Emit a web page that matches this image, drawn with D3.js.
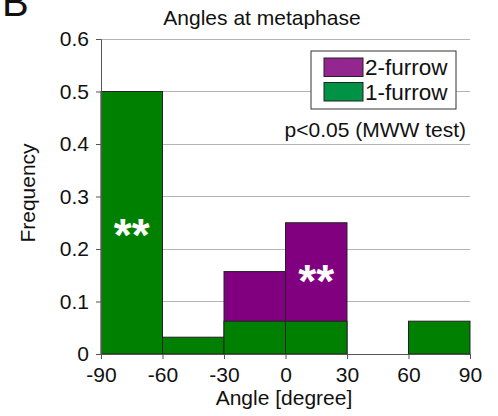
<!DOCTYPE html>
<html>
<head>
<meta charset="utf-8">
<script src="https://cdn.jsdelivr.net/npm/d3@7"></script>
<style>
  body { margin: 0; background: #fff; }
  text { font-family: "Liberation Sans", Arial, sans-serif; fill: #111; }
</style>
</head>
<body>
<div class="canvas"></div>
<script>
// data
const binEdges = [-90, -60, -30, 0, 30, 60, 90];
const oneFurrow = [0.5, 0.032, 0.0625, 0.0625, 0, 0.0625];
const twoFurrow = [0, 0, 0.157, 0.25, 0, 0];
const yTicks = [0, 0.1, 0.2, 0.3, 0.4, 0.5, 0.6];
const seriesNames = ["2-furrow", "1-furrow"];
const marks = [{ bin: 0, text: "**" }, { bin: 3, text: "**" }];

const dims = { width: 498, height: 416 };
const plot = { left: 101, right: 470, top: 39, bottom: 354 };

const svg = d3.select(".canvas")
  .append("svg")
  .attr("width", dims.width)
  .attr("height", dims.height);

const x = d3.scaleLinear().domain([-90, 90]).range([plot.left, plot.right]);
const y = d3.scaleLinear().domain([0, 0.6]).range([plot.bottom, plot.top]);

// panel letter (cut off at top, like the source figure)
svg.append("text")
  .attr("x", 2).attr("y", 16)
  .attr("font-size", 40)
  .text("B");

// title
svg.append("text")
  .attr("x", 262).attr("y", 25)
  .attr("text-anchor", "middle")
  .attr("font-size", 21)
  .text("Angles at metaphase");

// gridlines
svg.append("g")
  .selectAll("line")
  .data(yTicks.filter(d => d > 0))
  .enter().append("line")
  .attr("x1", plot.left).attr("x2", plot.right)
  .attr("y1", d => y(d)).attr("y2", d => y(d))
  .attr("stroke", "#b4b4b4")
  .attr("stroke-width", 1)
  .attr("shape-rendering", "crispEdges");

// bins
const bins = d3.range(oneFurrow.length).map(i => ({
  x0: binEdges[i], x1: binEdges[i + 1], one: oneFurrow[i], two: twoFurrow[i]
}));

const drawBars = (key, fill) => {
  svg.append("g")
    .selectAll("rect")
    .data(bins.filter(d => d[key] > 0))
    .enter().append("rect")
    .attr("x", d => x(d.x0))
    .attr("width", d => x(d.x1) - x(d.x0))
    .attr("y", d => y(d[key]))
    .attr("height", d => y(0) - y(d[key]))
    .attr("fill", fill)
    .attr("stroke", "#222")
    .attr("stroke-width", 1);
};
drawBars("two", "#800080");
drawBars("one", "#008000");

// y axis
const yAxis = d3.axisLeft(y)
  .tickValues(yTicks)
  .tickFormat(d => d === 0 ? "0" : d.toFixed(1))
  .tickSize(5)
  .tickPadding(7);
const yg = svg.append("g")
  .attr("transform", `translate(${plot.left},0)`)
  .call(yAxis);

// x axis (plain hyphen minus like the source)
const xAxis = d3.axisBottom(x)
  .tickValues(binEdges)
  .tickFormat(d => String(d))
  .tickSize(5)
  .tickPadding(5);
const xg = svg.append("g")
  .attr("transform", `translate(0,${plot.bottom})`)
  .call(xAxis);

[yg, xg].forEach(g => {
  g.select(".domain").attr("stroke", "#555");
  g.selectAll(".tick line").attr("stroke", "#555");
  g.selectAll(".tick text")
    .attr("font-size", 21)
    .attr("font-family", "'Liberation Sans', Arial, sans-serif")
    .attr("fill", "#111");
});
xg.selectAll(".tick text").attr("dy", "0.85em");

// axis labels
svg.append("text")
  .attr("x", 284).attr("y", 405)
  .attr("text-anchor", "middle")
  .attr("font-size", 21)
  .text("Angle [degree]");

svg.append("text")
  .attr("transform", "translate(35,193) rotate(-90)")
  .attr("text-anchor", "middle")
  .attr("font-size", 21)
  .text("Frequency");

// significance marks
svg.append("g")
  .selectAll("text")
  .data(marks)
  .enter().append("text")
  .attr("x", d => (x(binEdges[d.bin]) + x(binEdges[d.bin + 1])) / 2)
  .attr("y", d => d.bin === 0 ? 251 : 297)
  .attr("text-anchor", "middle")
  .attr("font-size", 46)
  .attr("font-weight", "bold")
  .style("fill", "#fff")
  .text(d => d.text);

// p value note
svg.append("text")
  .attr("x", 466).attr("y", 137)
  .attr("text-anchor", "end")
  .attr("font-size", 21)
  .text("p<0.05 (MWW test)");

// legend
const legendColors = ["#93278f", "#009245"];
const legend = svg.append("g");
legend.append("rect")
  .attr("x", 311).attr("y", 51)
  .attr("width", 145).attr("height", 58)
  .attr("fill", "#fff")
  .attr("stroke", "#333")
  .attr("stroke-width", 1);
seriesNames.forEach((name, i) => {
  legend.append("rect")
    .attr("x", 324).attr("y", 58 + i * 24.5)
    .attr("width", 39).attr("height", 18.5)
    .attr("fill", legendColors[i])
    .attr("stroke", "#222");
  legend.append("text")
    .attr("x", 365).attr("y", 75 + i * 25)
    .attr("font-size", 22.5)
    .text(name);
});
</script>
</body>
</html>
